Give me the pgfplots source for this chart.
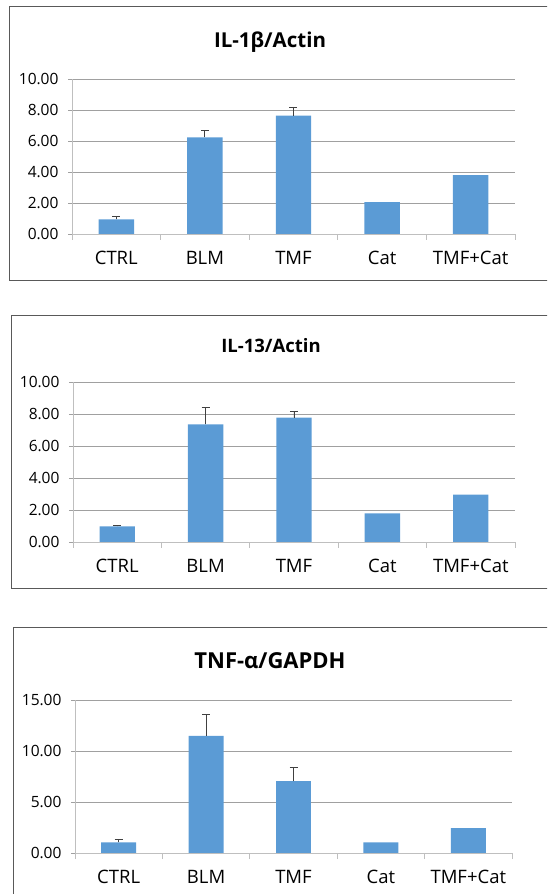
\documentclass[border=0pt]{standalone}
\usepackage{fontspec}
\setmainfont{Open Sans}
\usepackage{pgfplots}
\pgfplotsset{compat=1.18}
\definecolor{barblue}{HTML}{5B9BD5}
\definecolor{gridgray}{HTML}{A0A0A0}
\definecolor{axgray}{HTML}{BFBFBF}
\definecolor{boxgray}{HTML}{595959}
\definecolor{errgray}{HTML}{404040}
\pgfplotsset{
  panel/.style={
    scale only axis, anchor=south west,
    ybar, bar width=0.4,
    xmin=-0.5, xmax=4.5, ymin=0,
    axis x line*=bottom, axis y line*=left,
    axis line style={draw=axgray, line width=0.9pt},
    ymajorgrids, grid style={draw=gridgray, line width=0.9pt},
    xtick={0,1,2,3,4}, xticklabels={CTRL,BLM,TMF,Cat,TMF+Cat},
    xtick style={draw=none},
    extra x ticks={-0.5,0.5,1.5,2.5,3.5,4.5},
    extra x tick labels={},
    extra x tick style={grid=none, xtick style={draw=axgray, line width=0.9pt}, major tick length=6pt},
    tick align=outside, major tick length=4pt,
    ytick style={draw=gridgray, line width=0.9pt},
    tick label style={font=\fontsize{15.5}{15.5}\selectfont, text=black},
    yticklabel style={xshift=-6pt, /pgf/number format/.cd, fixed, fixed zerofill, precision=2, assume math mode=true},
    xticklabel style={font=\fontsize{18.5}{18.5}\selectfont, yshift=-10pt},
    error bars/y dir=plus, error bars/y explicit,
    error bars/error bar style={errgray, line width=0.9pt},
    error bars/error mark options={rotate=90, mark size=4pt, errgray, line width=0.9pt},
  },
  bars/.style={draw=none, fill=barblue, bar shift=0pt},
}
\begin{document}
\begin{tikzpicture}[x=1pt,y=1pt]
\useasboundingbox (0pt,0pt) rectangle (547pt,894pt);
\clip (0pt,0pt) rectangle (547pt,894pt);
% panel boxes
\draw[boxgray, line width=1pt] (9pt,613pt) rectangle (549pt,887pt);
\draw[boxgray, line width=1pt] (11pt,305pt) rectangle (549pt,578pt);
\draw[boxgray, line width=1pt] (13pt,-5pt) rectangle (549pt,266pt);
% titles
\node[anchor=base, font=\bfseries\fontsize{20.5}{20.5}\selectfont] at (270pt,846pt) {IL-1β/Actin};
\node[anchor=base, font=\bfseries\fontsize{18.5}{18.5}\selectfont] at (271pt,541pt) {IL-13/Actin};
\node[anchor=base, font=\bfseries\fontsize{22}{22}\selectfont] at (270pt,225pt) {TNF-α/GAPDH};
% panel 1
\begin{axis}[panel, at={(72pt,660pt)}, width=443pt, height=155pt, ymax=10, ytick={0,2,4,6,8,10}]
\addplot[bars] coordinates {(0,0.95) +- (0,0.15) (1,6.23) +- (0,0.45) (2,7.63) +- (0,0.52)};
\addplot[bars, forget plot, error bars/y dir=none] coordinates {(3,2.05) (4,3.79)};
\end{axis}
% panel 2
\begin{axis}[panel, at={(73pt,352pt)}, width=442pt, height=160pt, ymax=10, ytick={0,2,4,6,8,10}]
\addplot[bars] coordinates {(0,0.98) +- (0,0.06) (1,7.35) +- (0,1.07) (2,7.77) +- (0,0.40)};
\addplot[bars, forget plot, error bars/y dir=none] coordinates {(3,1.79) (4,2.96)};
\end{axis}
% panel 3
\begin{axis}[panel, at={(75pt,41pt)}, width=437pt, height=153pt, ymax=15, ytick={0,5,10,15}]
\addplot[bars] coordinates {(0,1.04) +- (0,0.33) (1,11.48) +- (0,2.12) (2,7.04) +- (0,1.37)};
\addplot[bars, forget plot, error bars/y dir=none] coordinates {(3,1.04) (4,2.45)};
\end{axis}
\end{tikzpicture}
\end{document}
